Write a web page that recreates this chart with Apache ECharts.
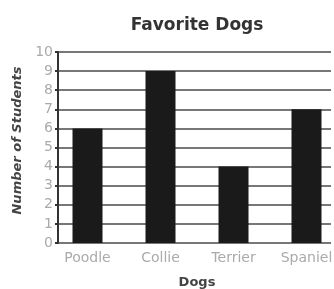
<!DOCTYPE html>
<html lang="en">
<head>
    <meta charset="UTF-8">
    <script src="https://cdn.jsdelivr.net/npm/echarts@6/dist/echarts.min.js"></script>
    <title>Favorite Dogs</title>
    <style>
      html, body { margin: 0; padding: 0; background: #fff; }
      #main { width: 334px; height: 289px; }
    </style>
</head>
<body>
  <div id="main"></div>
  <script>
    var dogs = ['Poodle', 'Collie', 'Terrier', 'Spaniel'];
    var students = [6, 9, 4, 7];
    var yTicks = [0, 1, 2, 3, 4, 5, 6, 7, 8, 9, 10];

    var myChart = echarts.init(document.getElementById('main'));
    var font = 'DejaVu Sans';
    var gridTop = 52, gridBottom = 46;

    myChart.setOption({
      animation: false,
      title: {
        text: 'Favorite Dogs',
        left: 192, top: 12, textAlign: 'center',
        textStyle: { fontFamily: font, fontWeight: 'bold', fontSize: 17, color: '#333' }
      },
      grid: [
        // grid with the y axis and gridlines
        { left: 58, right: 3, top: gridTop, bottom: gridBottom, outerBoundsMode: 'none', containLabel: false },
        // grid holding the bars (wider so bars line up with the picture)
        { left: 51, width: 292, top: gridTop, bottom: gridBottom, outerBoundsMode: 'none', containLabel: false }
      ],
      xAxis: [
        { gridIndex: 0, type: 'category', data: dogs, show: false },
        {
          gridIndex: 1, type: 'category', data: dogs,
          axisLine: { show: false }, axisTick: { show: false },
          axisLabel: { color: '#aaa', fontFamily: font, fontSize: 14, margin: 8 },
          name: 'Dogs', nameLocation: 'middle', nameGap: 33,
          nameTextStyle: { fontFamily: font, fontWeight: 'bold', fontSize: 13, color: '#444' }
        }
      ],
      yAxis: [
        {
          gridIndex: 0, type: 'value', min: 0, max: 10, interval: 1,
          axisLine: { show: true, lineStyle: { color: '#333', width: 2 } },
          axisTick: { show: true, length: 3, lineStyle: { color: '#333', width: 2 } },
          axisLabel: { color: '#aaa', fontFamily: font, fontSize: 14, margin: 5,
            formatter: function (v) { return yTicks.indexOf(v) >= 0 ? String(v) : ''; } },
          splitLine: { show: true, lineStyle: { color: '#777', width: 2 } },
          name: 'Number of Students', nameLocation: 'middle', nameGap: 31,
          nameTextStyle: { fontFamily: font, fontWeight: 'bold', fontStyle: 'italic', fontSize: 13,
            color: '#444', padding: [0, 0, 0, 14] }
        },
        { gridIndex: 1, type: 'value', min: 0, max: 10, show: false, splitLine: { show: false } }
      ],
      series: [{
        type: 'bar',
        xAxisIndex: 1, yAxisIndex: 1,
        data: students,
        barWidth: 30,
        itemStyle: { color: '#1a1a1a' }
      }]
    });
  </script>
</body>
</html>
